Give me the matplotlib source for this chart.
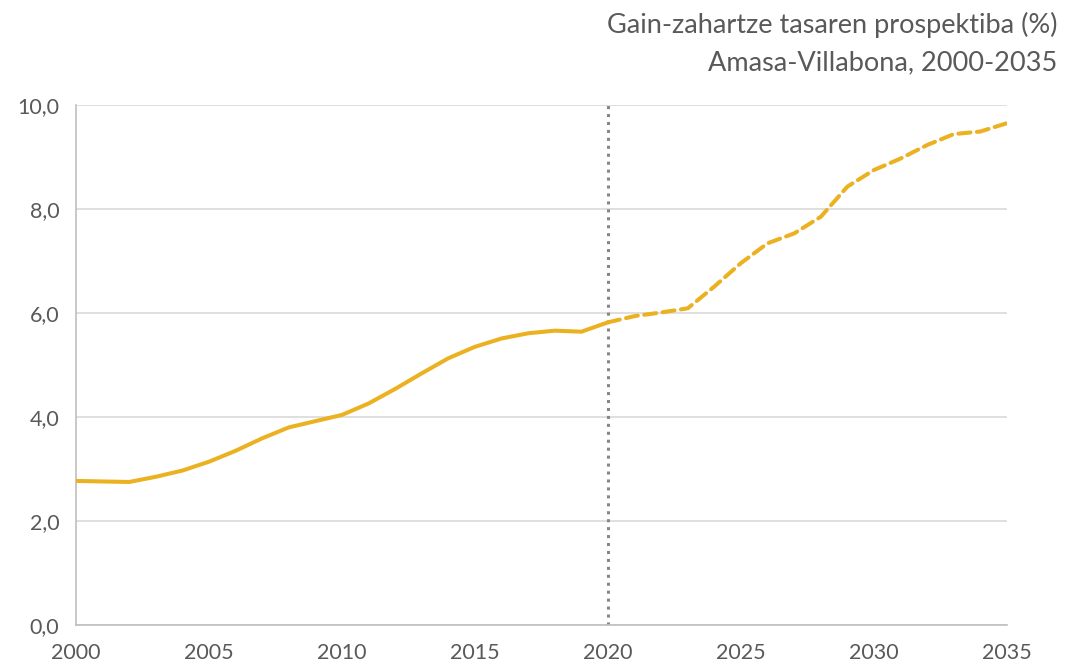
import matplotlib
matplotlib.use('Agg')
import matplotlib.pyplot as plt
from matplotlib.ticker import FuncFormatter

# data
years_hist = list(range(2000, 2021))
rate_hist = [2.77, 2.76, 2.75, 2.85, 2.97, 3.14, 3.35, 3.59, 3.80, 3.92, 4.04,
             4.26, 4.54, 4.84, 5.13, 5.35, 5.51, 5.61, 5.66, 5.64, 5.82]
years_proj = list(range(2020, 2036))
rate_proj = [5.82, 5.94, 6.01, 6.09, 6.51, 6.96, 7.34, 7.53, 7.85, 8.43, 8.75,
             8.97, 9.23, 9.44, 9.49, 9.65]
x_ticks = [2000, 2005, 2010, 2015, 2020, 2025, 2030, 2035]
y_ticks = [0, 2, 4, 6, 8, 10]
title_lines = "Gain-zahartze tasaren prospektiba (%)\nAmasa-Villabona, 2000-2035"

plt.rcParams['font.family'] = ['Lato', 'DejaVu Sans']
text_col = '#595959'
gold = '#EBB120'

fig = plt.figure(figsize=(10.65, 6.7), dpi=100)
ax = fig.add_axes([0.0714, 0.0672, 0.8741, 0.7761])

ax.plot(years_hist, rate_hist, color=gold, lw=2.9, solid_capstyle='round',
        solid_joinstyle='round', zorder=3)
ax.plot(years_proj, rate_proj, color=gold, lw=2.9, linestyle=(0, (3, 1.6)),
        dash_capstyle='round', zorder=3)
ax.axvline(2020, color='#8C8585', lw=2.2, linestyle=(0, (1, 1.6)), zorder=2)

ax.set_xlim(2000, 2035)
ax.set_ylim(0, 10)
ax.set_xticks(x_ticks)
ax.set_yticks(y_ticks)
ax.yaxis.set_major_formatter(FuncFormatter(lambda v, p: f"{v:.1f}".replace('.', ',')))
ax.grid(axis='y', color='#D9D9D9', lw=1.2)
ax.set_axisbelow(True)
for s in ['top', 'right']:
    ax.spines[s].set_visible(False)
for s in ['left', 'bottom']:
    ax.spines[s].set_color('#BFBFBF')
    ax.spines[s].set_linewidth(1.2)
ax.tick_params(length=0, labelsize=15.5, colors=text_col)
ax.tick_params(axis='x', pad=13)
ax.tick_params(axis='y', pad=12)

fig.text(0.993, 0.982, title_lines, ha='right', va='top', fontsize=19.5,
         color=text_col, linespacing=1.6)

fig.savefig('out.png', dpi=100)
